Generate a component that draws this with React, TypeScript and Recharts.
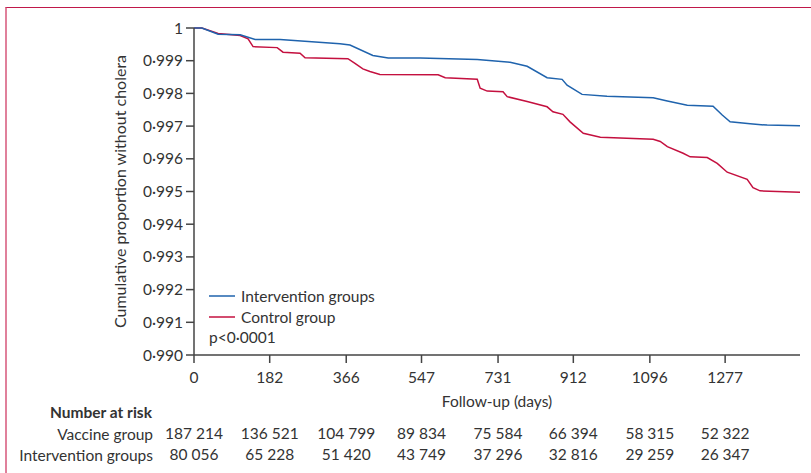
import React from 'react';
import { LineChart, Line, XAxis, YAxis } from 'recharts';

// Kaplan-Meier estimates (day, proportion without cholera)
const interventionDays = [0, 19, 58, 111, 147, 207, 351, 375, 430, 467, 544, 681, 760, 801, 849, 885, 897, 933, 993, 1104, 1138, 1186, 1248, 1270, 1289, 1337, 1378, 1457];
const interventionSurv = [1, 1, 0.99981, 0.99979, 0.99965, 0.99965, 0.99952, 0.99948, 0.99916, 0.99908, 0.99908, 0.99904, 0.99895, 0.99883, 0.99848, 0.99843, 0.99825, 0.99797, 0.99791, 0.99787, 0.99777, 0.99764, 0.99761, 0.99734, 0.99713, 0.99707, 0.99703, 0.99701];

const controlDays = [0, 19, 58, 111, 130, 142, 200, 214, 255, 267, 370, 387, 406, 423, 447, 587, 604, 681, 688, 705, 743, 753, 801, 849, 863, 887, 904, 936, 977, 1104, 1121, 1138, 1176, 1193, 1234, 1258, 1282, 1330, 1344, 1361, 1457];
const controlSurv = [1, 1, 0.99983, 0.99977, 0.99967, 0.99943, 0.9994, 0.99926, 0.99923, 0.99909, 0.99906, 0.99892, 0.99875, 0.99867, 0.99858, 0.99857, 0.99848, 0.99843, 0.99816, 0.99807, 0.99805, 0.9979, 0.99775, 0.99759, 0.99744, 0.99736, 0.99713, 0.99678, 0.99666, 0.9966, 0.99653, 0.99637, 0.99617, 0.99606, 0.99604, 0.99586, 0.99559, 0.99537, 0.99512, 0.99502, 0.99498];

const xTicks = [0, 182, 366, 547, 731, 912, 1096, 1277];
const yTicks = [0.99, 0.991, 0.992, 0.993, 0.994, 0.995, 0.996, 0.997, 0.998, 0.999, 1];
const vaccineRisk = ['187 214', '136 521', '104 799', '89 834', '75 584', '66 394', '58 315', '52 322'];
const interventionRisk = ['80 056', '65 228', '51 420', '43 749', '37 296', '32 816', '29 259', '26 347'];

const BLUE = '#1f63ad';
const RED = '#c4103f';
const TEXT = '#333';
const FONT = 'Lato, "Open Sans", sans-serif';
const FS = 15.5;

const interventionData = interventionDays.map((d, i) => ({ day: d, value: interventionSurv[i] }));
const controlData = controlDays.map((d, i) => ({ day: d, value: controlSurv[i] }));

const fmtY = (v: number) => (v === 1 ? '1' : v.toFixed(3).replace('.', '·'));

function XTick(props: any) {
  const { x, y, payload } = props;
  const i = xTicks.indexOf(payload.value);
  return (
    <g fill={TEXT} fontSize={FS} fontFamily={FONT}>
      <text x={x} y={y} dy={18} textAnchor="middle">{payload.value}</text>
      <text x={x} y={y} dy={74} textAnchor="middle">{vaccineRisk[i] ?? ''}</text>
      <text x={x} y={y} dy={95} textAnchor="middle">{interventionRisk[i] ?? ''}</text>
    </g>
  );
}

export default function App() {
  const abs = (left: number, top: number): React.CSSProperties => ({
    position: 'absolute', left, top, fontFamily: FONT, fontSize: FS, color: TEXT, whiteSpace: 'nowrap', lineHeight: '16px',
  });
  return (
    <div style={{ position: 'absolute', left: 0, top: 0, width: 811, height: 473, background: '#fff', overflow: 'hidden' }}>
      <div style={{ position: 'absolute', left: 5, top: 7, width: 806, height: 466, borderTop: '1px solid #c0184a', borderLeft: '2px solid #e0809b', boxSizing: 'border-box' }} />
      <LineChart
        width={811}
        height={473}
        margin={{ top: 28, right: 11, left: 114, bottom: 66 }}
        style={{ position: 'absolute', left: 0, top: 0 }}
      >
        <XAxis
          dataKey="day"
          type="number"
          domain={[0, 1457]}
          ticks={xTicks}
          height={52}
          tickSize={8}
          tickMargin={2}
          stroke="#444"
          strokeWidth={1.5}
          tick={<XTick />}
          allowDuplicatedCategory={false}
          label={{ value: 'Follow-up (days)', position: 'insideBottom', offset: 0, fill: TEXT, fontSize: FS, fontFamily: FONT }}
        />
        <YAxis
          dataKey="value"
          type="number"
          domain={[0.99, 1]}
          ticks={yTicks}
          width={80}
          tickSize={8}
          tickMargin={3}
          stroke="#444"
          strokeWidth={1.5}
          tickFormatter={fmtY}
          tick={{ fill: TEXT, fontSize: FS, fontFamily: FONT }}
          label={{ value: 'Cumulative proportion without cholera', angle: -90, position: 'insideLeft', offset: 6, fill: TEXT, fontSize: 16, fontFamily: FONT, style: { textAnchor: 'middle' } }}
        />
        <Line data={controlData} dataKey="value" name="Control group" type="linear" stroke={RED} strokeWidth={1.5} dot={false} isAnimationActive={false} />
        <Line data={interventionData} dataKey="value" name="Intervention groups" type="linear" stroke={BLUE} strokeWidth={1.5} dot={false} isAnimationActive={false} />
      </LineChart>

      {/* legend inside plot */}
      <svg style={{ position: 'absolute', left: 209, top: 290 }} width={28} height={30}>
        <line x1={0} x2={26} y1={6} y2={6} stroke={BLUE} strokeWidth={1.5} />
        <line x1={0} x2={26} y1={27} y2={27} stroke={RED} strokeWidth={1.5} />
      </svg>
      <div style={abs(241, 288)}>Intervention groups</div>
      <div style={abs(241, 309)}>Control group</div>
      <div style={abs(209, 329)}>p&lt;0·0001</div>

      {/* number at risk labels */}
      <div style={{ ...abs(50, 404), fontWeight: 700 }}>Number at risk</div>
      <div style={{ ...abs(0, 426), width: 153, textAlign: 'right' }}>Vaccine group</div>
      <div style={{ ...abs(0, 447), width: 153, textAlign: 'right' }}>Intervention groups</div>
    </div>
  );
}
